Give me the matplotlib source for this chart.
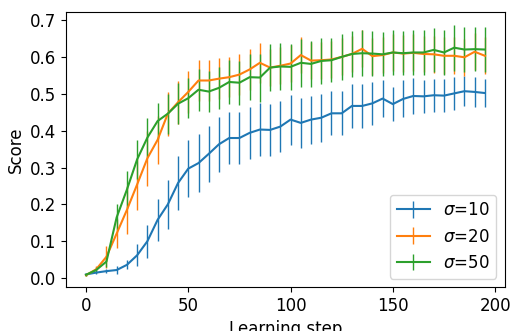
import numpy as np
import matplotlib
matplotlib.use("Agg")
import matplotlib.pyplot as plt

steps = list(range(0, 200, 5))

score_s10 = [0.010, 0.015, 0.019, 0.022, 0.036, 0.062, 0.100, 0.158, 0.200, 0.258,
             0.297, 0.312, 0.337, 0.363, 0.380, 0.380, 0.394, 0.403, 0.402, 0.411,
             0.430, 0.421, 0.430, 0.435, 0.447, 0.447, 0.467, 0.467, 0.474, 0.487,
             0.472, 0.486, 0.494, 0.493, 0.496, 0.495, 0.501, 0.507, 0.505, 0.502]
err_s10 = [0.002, 0.004, 0.006, 0.010, 0.012, 0.030, 0.045, 0.057, 0.066, 0.073,
           0.077, 0.079, 0.076, 0.074, 0.070, 0.070, 0.070, 0.072, 0.070, 0.070,
           0.068, 0.068, 0.065, 0.065, 0.060, 0.060, 0.060, 0.060, 0.058, 0.050,
           0.046, 0.050, 0.048, 0.045, 0.045, 0.045, 0.045, 0.040, 0.040, 0.038]

score_s20 = [0.008, 0.024, 0.058, 0.121, 0.185, 0.254, 0.325, 0.375, 0.446, 0.477,
             0.505, 0.536, 0.536, 0.541, 0.545, 0.552, 0.566, 0.584, 0.571, 0.576,
             0.582, 0.605, 0.590, 0.591, 0.593, 0.600, 0.608, 0.622, 0.602, 0.605,
             0.612, 0.609, 0.611, 0.608, 0.607, 0.603, 0.603, 0.599, 0.614, 0.603]
err_s20 = [0.002, 0.008, 0.030, 0.040, 0.065, 0.070, 0.075, 0.065, 0.060, 0.058,
           0.058, 0.055, 0.055, 0.055, 0.055, 0.055, 0.055, 0.055, 0.050, 0.050,
           0.050, 0.050, 0.050, 0.050, 0.050, 0.050, 0.050, 0.050, 0.050, 0.050,
           0.050, 0.050, 0.050, 0.050, 0.050, 0.050, 0.050, 0.050, 0.050, 0.050]

score_s50 = [0.009, 0.022, 0.045, 0.165, 0.240, 0.322, 0.381, 0.426, 0.446, 0.473,
             0.488, 0.511, 0.506, 0.516, 0.532, 0.530, 0.545, 0.544, 0.571, 0.574,
             0.573, 0.584, 0.581, 0.589, 0.591, 0.600, 0.608, 0.610, 0.609, 0.607,
             0.612, 0.610, 0.612, 0.612, 0.619, 0.612, 0.625, 0.620, 0.621, 0.620]
err_s50 = [0.002, 0.008, 0.015, 0.035, 0.050, 0.053, 0.052, 0.050, 0.054, 0.055,
           0.055, 0.057, 0.055, 0.057, 0.060, 0.060, 0.062, 0.065, 0.063, 0.063,
           0.063, 0.065, 0.062, 0.062, 0.060, 0.062, 0.062, 0.062, 0.062, 0.060,
           0.062, 0.060, 0.060, 0.060, 0.060, 0.060, 0.062, 0.060, 0.060, 0.060]

series = [
    (r"$\sigma$=10", score_s10, err_s10, "#1f77b4"),
    (r"$\sigma$=20", score_s20, err_s20, "#ff7f0e"),
    (r"$\sigma$=50", score_s50, err_s50, "#2ca02c"),
]

fig = plt.figure(figsize=(5.12, 3.31), dpi=100)
ax = fig.add_axes([0.129, 0.133, 0.857, 0.831])

for label, y, e, c in series:
    ax.errorbar(steps, y, yerr=e, color=c, linewidth=1.5, elinewidth=1.0,
                label=label)

ax.set_ylim(-0.024, 0.722)
ax.set_xticks([0, 50, 100, 150, 200])
ax.set_yticks(np.arange(0, 0.71, 0.1))
ax.tick_params(labelsize=12)
ax.set_xlabel("Learning step", fontsize=12)
ax.set_ylabel("Score", fontsize=12)
ax.legend(loc="lower right", fontsize=12)

fig.savefig("out.png", dpi=100)
